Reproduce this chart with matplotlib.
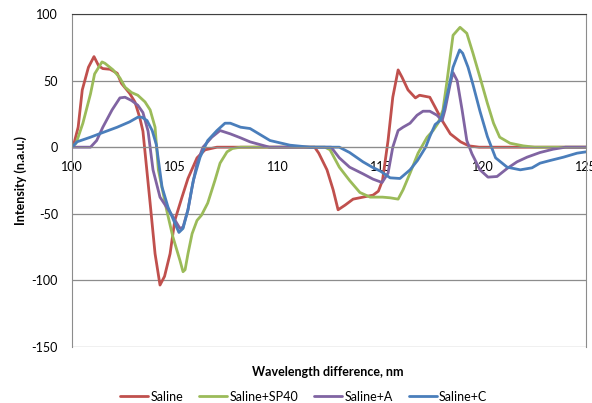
import matplotlib.pyplot as plt

plt.rcParams['font.family'] = ['Lato', 'DejaVu Sans']

# Saline
saline_x = [100.0, 100.1, 100.3, 100.5, 100.8, 101.07, 101.3, 101.5, 101.85, 102.2,
            102.4, 102.8, 103.06, 103.3, 103.45, 103.8, 104.04, 104.28, 104.5, 104.77,
            105.0, 105.35, 105.64, 106.08, 106.47, 107.05, 108.0, 111.8, 112.0, 112.4,
            112.7, 112.94, 113.28, 113.67, 114.15, 114.64, 114.9, 115.1, 115.37, 115.6,
            115.86, 116.05, 116.34, 116.7, 116.9, 117.4, 117.66, 118.0, 118.4, 118.9,
            119.3, 119.8, 125.0]
saline_y = [0, 3, 15, 43, 60, 68, 61, 59, 58.5, 55.5,
            48, 40.5, 34, 22, 12, -42, -80, -103.5, -97, -80,
            -55, -37.5, -23.5, -8, -2, 0, 0, 0, -4.5, -17,
            -32, -47, -43.5, -39, -37.5, -36, -33, -25, 5, 37.5,
            58, 52.5, 43, 37, 39, 37.5, 30, 20, 10, 4,
            1, 0, 0]

# Saline+SP40
sp40_x = [100.0, 100.2, 100.53, 100.9, 101.1, 101.46, 101.6, 102.0, 102.33, 102.58,
          102.9, 103.2, 103.55, 103.8, 104.04, 104.2, 104.6, 104.9, 105.25, 105.4,
          105.5, 105.64, 105.84, 106.08, 106.3, 106.6, 106.95, 107.2, 107.54, 107.8,
          108.2, 112.3, 112.55, 113.0, 113.5, 114.0, 114.5, 115.1, 115.47, 115.86,
          116.1, 116.44, 116.83, 117.27, 117.56, 117.8, 118.04, 118.24, 118.53, 118.87,
          119.2, 119.5, 119.84, 120.2, 120.5, 120.8, 121.3, 121.94, 122.5, 125.0]
sp40_y = [0, 3, 18, 40, 55, 64, 63, 58, 52, 45,
          41, 39, 34, 28, 15, -17, -47, -67, -85, -93.5,
          -92, -80, -65, -55, -51, -42, -25, -12, -3.5, -1,
          0, 0, -2, -15, -25, -34, -37.5, -37.5, -38, -39,
          -32, -19.5, -4.5, 7.5, 12.5, 18, 28, 50, 84, 90,
          85.5, 70.5, 52.5, 33, 18, 7.5, 3, 1, 0, 0]

# Saline+A
a_x = [100.0, 100.9, 101.2, 101.5, 101.95, 102.33, 102.58, 102.9, 103.2, 103.45,
       103.7, 103.94, 104.28, 104.6, 104.9, 105.25, 105.4, 105.64, 105.84, 106.08,
       106.37, 106.8, 107.2, 107.7, 108.2, 108.66, 109.6, 112.6, 113.0, 113.5,
       114.15, 114.64, 115.08, 115.37, 115.6, 115.86, 116.1, 116.44, 116.78, 117.07,
       117.4, 117.75, 118.0, 118.14, 118.4, 118.53, 118.73, 118.97, 119.2, 119.45,
       119.84, 120.23, 120.67, 121.16, 121.64, 122.13, 122.76, 123.4, 124.0, 125.0]
a_y = [0, 0, 5, 15, 28, 37, 37.5, 35, 31.5, 26,
       12, -17, -37.5, -45, -52, -61, -60, -47, -30, -12,
       0, 7.5, 12.5, 10, 7, 4, 0, 0, -8, -15,
       -20, -24, -26.5, -19.5, 0, 12.5, 15, 18, 24, 27,
       27, 24, 20, 28, 48, 56, 50, 28, 5, -5,
       -17, -22.5, -22, -16, -11, -7.5, -4, -1.5, 0, 0]

# Saline+C
c_x = [100.0, 100.24, 100.9, 101.5, 102.2, 102.8, 103.2, 103.4, 103.65, 103.9,
       104.1, 104.38, 104.67, 105.0, 105.2, 105.4, 105.64, 105.9, 106.23, 106.6,
       107.05, 107.44, 107.7, 108.2, 108.66, 109.63, 110.6, 111.58, 113.0, 113.5,
       114.15, 114.6, 115.0, 115.47, 115.95, 116.44, 116.8, 117.2, 117.4, 117.66,
       117.9, 118.04, 118.3, 118.53, 118.85, 119.0, 119.26, 119.5, 119.84, 120.2,
       120.6, 121.16, 121.8, 122.37, 122.76, 123.25, 123.9, 124.56, 125.0]
c_y = [0, 4, 7.5, 11, 15, 19, 22.5, 22.5, 20, 12.5,
       2, -30, -45, -57, -64, -61, -47, -25, -7.5, 5,
       12.5, 18, 18, 15, 14, 5, 1.5, 0, 0, -4,
       -11, -15, -18, -23, -23.5, -17, -10, 0, 8, 17,
       20, 25.5, 43, 60, 73, 70.5, 60, 47, 27, 8,
       -8, -15, -17, -15.5, -12, -10, -7.5, -4.5, -3.5]

series = [
    ('Saline', saline_x, saline_y, '#C0504D'),
    ('Saline+SP40', sp40_x, sp40_y, '#9BBB59'),
    ('Saline+A', a_x, a_y, '#8064A2'),
    ('Saline+C', c_x, c_y, '#4A7EBB'),
]

fig = plt.figure(figsize=(5.92, 4.03), dpi=100)
ax = fig.add_axes([0.1216, 0.139, 0.8684, 0.8263])

for name, xs, ys, col in series:
    ax.plot(xs, ys, color=col, lw=2.0, label=name, solid_joinstyle='round',
            solid_capstyle='round')

ax.set_xlim(100, 125)
ax.set_ylim(-150, 100)
ax.set_xticks([100, 105, 110, 115, 120, 125])
ax.set_yticks([-150, -100, -50, 0, 50, 100])
ax.set_yticklabels(['-150', '-100', '-50', '0', '50', '100'])
ax.yaxis.grid(True, color='#8c8c8c', lw=0.9)
ax.set_axisbelow(True)

# x axis crosses at zero
ax.spines['bottom'].set_position(('data', 0))
ax.spines['bottom'].set_color('#8c8c8c')
ax.spines['left'].set_color('#8c8c8c')
ax.spines['top'].set_color('#404040')
ax.spines['right'].set_color('#8c8c8c')
ax.tick_params(axis='both', length=0, labelsize=9, colors='black')
ax.tick_params(axis='x', pad=10)
ax.tick_params(axis='y', pad=10)

fig.text(0.035, 0.553, 'Intensity (n.a.u.)', rotation=90, ha='center', va='center',
         fontsize=9, fontweight='bold')
fig.text(0.554, 0.077, 'Wavelength difference, nm', ha='center', va='center',
         fontsize=9, fontweight='bold')

fig.legend(loc='center', bbox_to_anchor=(0.513, 0.016), ncol=4, frameon=False,
           fontsize=9, handlelength=2.25, handletextpad=0.15, columnspacing=1.3)

fig.savefig('out.png', dpi=100)
